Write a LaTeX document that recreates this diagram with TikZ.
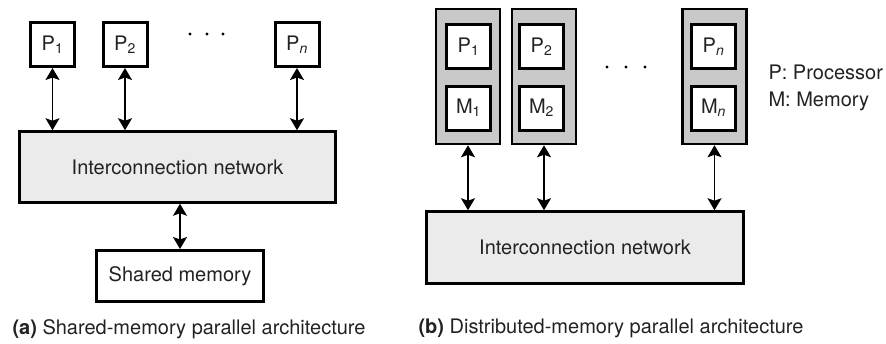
\documentclass[tikz,border=0pt]{standalone}
\usepackage{fontspec}
\setmainfont{TeX Gyre Heros}
\usetikzlibrary{arrows.meta}
\definecolor{netfill}{HTML}{EBEBEB}
\definecolor{nodefill}{HTML}{C8C8C8}
\definecolor{ink}{HTML}{222222}
\tikzset{
  txt/.style={font=\fontsize{20}{24}\selectfont, text=ink},
  pbox/.style={txt, draw, line width=3pt, fill=white, minimum width=44pt, minimum height=44pt, inner sep=0pt},
  netbox/.style={txt, draw, line width=2.5pt, fill=netfill, inner sep=0pt},
  outerbox/.style={draw, line width=2.5pt, fill=nodefill, minimum width=64pt, minimum height=135pt, inner sep=0pt},
  memtxt/.style={txt, draw, line width=3pt, fill=white, inner sep=0pt},
  link/.style={line width=1.6pt, {Stealth[length=12pt,width=14pt,inset=2.5pt]}-{Stealth[length=12pt,width=14pt,inset=2.5pt]}},
  caption/.style={txt, anchor=west},
  dot/.style={fill=black, circle, inner sep=0pt, minimum size=3.4pt}
}
\newcommand{\sub}[1]{\textsubscript{#1}}
\begin{document}
\begin{tikzpicture}[x=1pt, y=-1pt]
\useasboundingbox (0,0) rectangle (886,343);

% ---- (a) shared-memory architecture ----
\node[pbox] (pa1) at (52.5,44.5) {P\sub{1}};
\node[pbox] (pa2) at (125,44.5) {P\sub{2}};
\node[pbox] (pan) at (297,44.5) {P\sub{\itshape n}};
\node[dot] (da1) at (190,34) {};
\node[dot] (da2) at (207,34) {};
\node[dot] (da3) at (223,34) {};
\node[netbox, minimum width=316pt, minimum height=71pt] (neta) at (177.5,167) {Interconnection network};
\node[memtxt, minimum width=167pt, minimum height=51pt] (shm) at (180,276) {Shared memory};
\draw[link] (pa1.south) -- (pa1.south |- neta.north);
\draw[link] (pa2.south) -- (pa2.south |- neta.north);
\draw[link] (pan.south) -- (pan.south |- neta.north);
\draw[link] (shm.north |- neta.south) -- (shm.north);
\node[caption] (capa) at (9,329) {\textbf{(a)} Shared-memory parallel architecture};

% ---- (b) distributed-memory architecture ----
\node[outerbox] (nb1) at (468,76.5) {};
\node[outerbox] (nb2) at (544,76.5) {};
\node[outerbox] (nbn) at (714.5,76.5) {};
\node[pbox] (pb1) at (468.5,46.5) {P\sub{1}};
\node[pbox] (mb1) at (468.5,108) {M\sub{1}};
\node[pbox] (pb2) at (541.5,46.5) {P\sub{2}};
\node[pbox] (mb2) at (541.5,108) {M\sub{2}};
\node[pbox] (pbn) at (713.5,46.5) {P\sub{\itshape n}};
\node[pbox] (mbn) at (713.5,108) {M\sub{\itshape n}};
\node[dot] (db1) at (607,67) {};
\node[dot] (db2) at (626,67) {};
\node[dot] (db3) at (645,67) {};
\node[netbox, minimum width=317pt, minimum height=72pt] (netb) at (585,247.5) {Interconnection network};
\draw[link] (nb1.south) -- (nb1.south |- netb.north);
\draw[link] (nb2.south) -- (nb2.south |- netb.north);
\draw[link] (nbn.south) -- (nbn.south |- netb.north);
\node[txt, anchor=west] (lgp) at (765,72) {P: Processor};
\node[txt, anchor=west] (lgm) at (765,101) {M: Memory};
\node[caption] (capb) at (415,328) {\textbf{(b)} Distributed-memory parallel architecture};
\end{tikzpicture}
\end{document}
